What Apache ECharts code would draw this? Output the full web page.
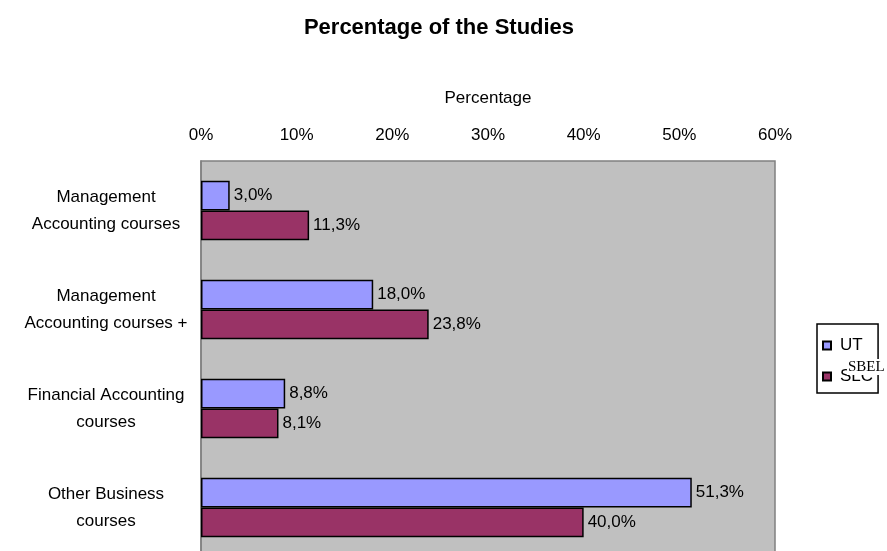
<!DOCTYPE html>
<html>
<head>
<meta charset="utf-8">
<script src="https://cdn.jsdelivr.net/npm/echarts@6/dist/echarts.min.js"></script>
<style>
  html, body { margin: 0; padding: 0; background: #ffffff; overflow: hidden; }
  #chart { width: 887px; height: 557px; }
</style>
</head>
<body>
<div id="chart"></div>
<script>
// Course categories, listed top to bottom
const categories = [
  'Management\nAccounting courses',
  'Management\nAccounting courses +',
  'Financial Accounting\ncourses',
  'Other Business\ncourses'
];
// Share of studies per category (percent)
const utValues = [3.0, 18.0, 8.8, 51.3];
const slcValues = [11.3, 23.8, 8.1, 40.0];
const seriesNames = ['UT', 'SLC'];
// Value axis range and step (percent)
const axisMin = 0;
const axisMax = 60;
const axisStep = 10;

const FONT = 'Liberation Sans, Arial, sans-serif';
const TXT = 17;
const fmtPct = v => v.toFixed(1).replace('.', ',') + '%';

const chart = echarts.init(document.getElementById('chart'), null, { renderer: 'canvas' });

const barSeries = (name, data, color) => ({
  name: name,
  type: 'bar',
  data: data,
  barGap: '0%',
  barCategoryGap: '40%',
  itemStyle: { color: color, borderColor: '#000000', borderWidth: 1.5 },
  label: {
    show: true,
    position: 'right',
    distance: 4,
    color: '#000000',
    fontFamily: FONT,
    fontSize: TXT,
    formatter: p => fmtPct(p.value)
  },
  emphasis: { disabled: true },
  animation: false
});

chart.setOption({
  animation: false,
  title: {
    text: 'Percentage of the Studies',
    left: 434,
    top: 12,
    textAlign: 'center',
    textStyle: { fontFamily: FONT, fontSize: 22, fontWeight: 'bold', color: '#000000' }
  },
  grid: {
    left: 201,
    right: 112,
    top: 161,
    bottom: 0,
    show: true,
    backgroundColor: '#C0C0C0',
    borderColor: '#808080',
    borderWidth: 1.5
  },
  legend: {
    orient: 'vertical',
    left: 817,
    top: 324,
    data: seriesNames,
    icon: 'rect',
    itemWidth: 8,
    itemHeight: 8,
    itemGap: 14,
    padding: [13, 5, 8, 5],
    backgroundColor: '#ffffff',
    borderColor: '#000000',
    borderWidth: 1.5,
    borderRadius: 0,
    textStyle: { fontFamily: FONT, fontSize: TXT, color: '#000000', padding: [0, 0, 0, 4] },
    selectedMode: false
  },
  xAxis: {
    type: 'value',
    position: 'top',
    min: axisMin,
    max: axisMax,
    interval: axisStep,
    name: 'Percentage',
    nameLocation: 'middle',
    nameGap: 54,
    nameTextStyle: { fontFamily: FONT, fontSize: TXT, color: '#000000' },
    axisLine: { show: false },
    axisTick: { show: false },
    splitLine: { show: false },
    axisLabel: {
      margin: 17,
      fontFamily: FONT,
      fontSize: TXT,
      color: '#000000',
      formatter: '{value}%'
    }
  },
  yAxis: {
    type: 'category',
    data: categories,
    inverse: true,
    axisLine: { show: true, lineStyle: { color: '#808080', width: 1.5 } },
    axisTick: { show: false },
    axisLabel: {
      margin: 95,
      align: 'center',
      fontFamily: FONT,
      fontSize: TXT,
      lineHeight: 27,
      padding: [7, 0, 0, 0],
      color: '#000000'
    }
  },
  graphic: [{
    type: 'text',
    left: 847,
    top: 359,
    z: 100,
    style: {
      text: 'SBEL',
      fontFamily: 'Liberation Serif, Times New Roman, serif',
      fontSize: 15,
      fill: '#000000',
      backgroundColor: '#ffffff',
      padding: [1, 1, 0, 1]
    }
  }],
  series: [
    barSeries(seriesNames[0], utValues, '#9999FF'),
    barSeries(seriesNames[1], slcValues, '#993366')
  ]
});
</script>
</body>
</html>
